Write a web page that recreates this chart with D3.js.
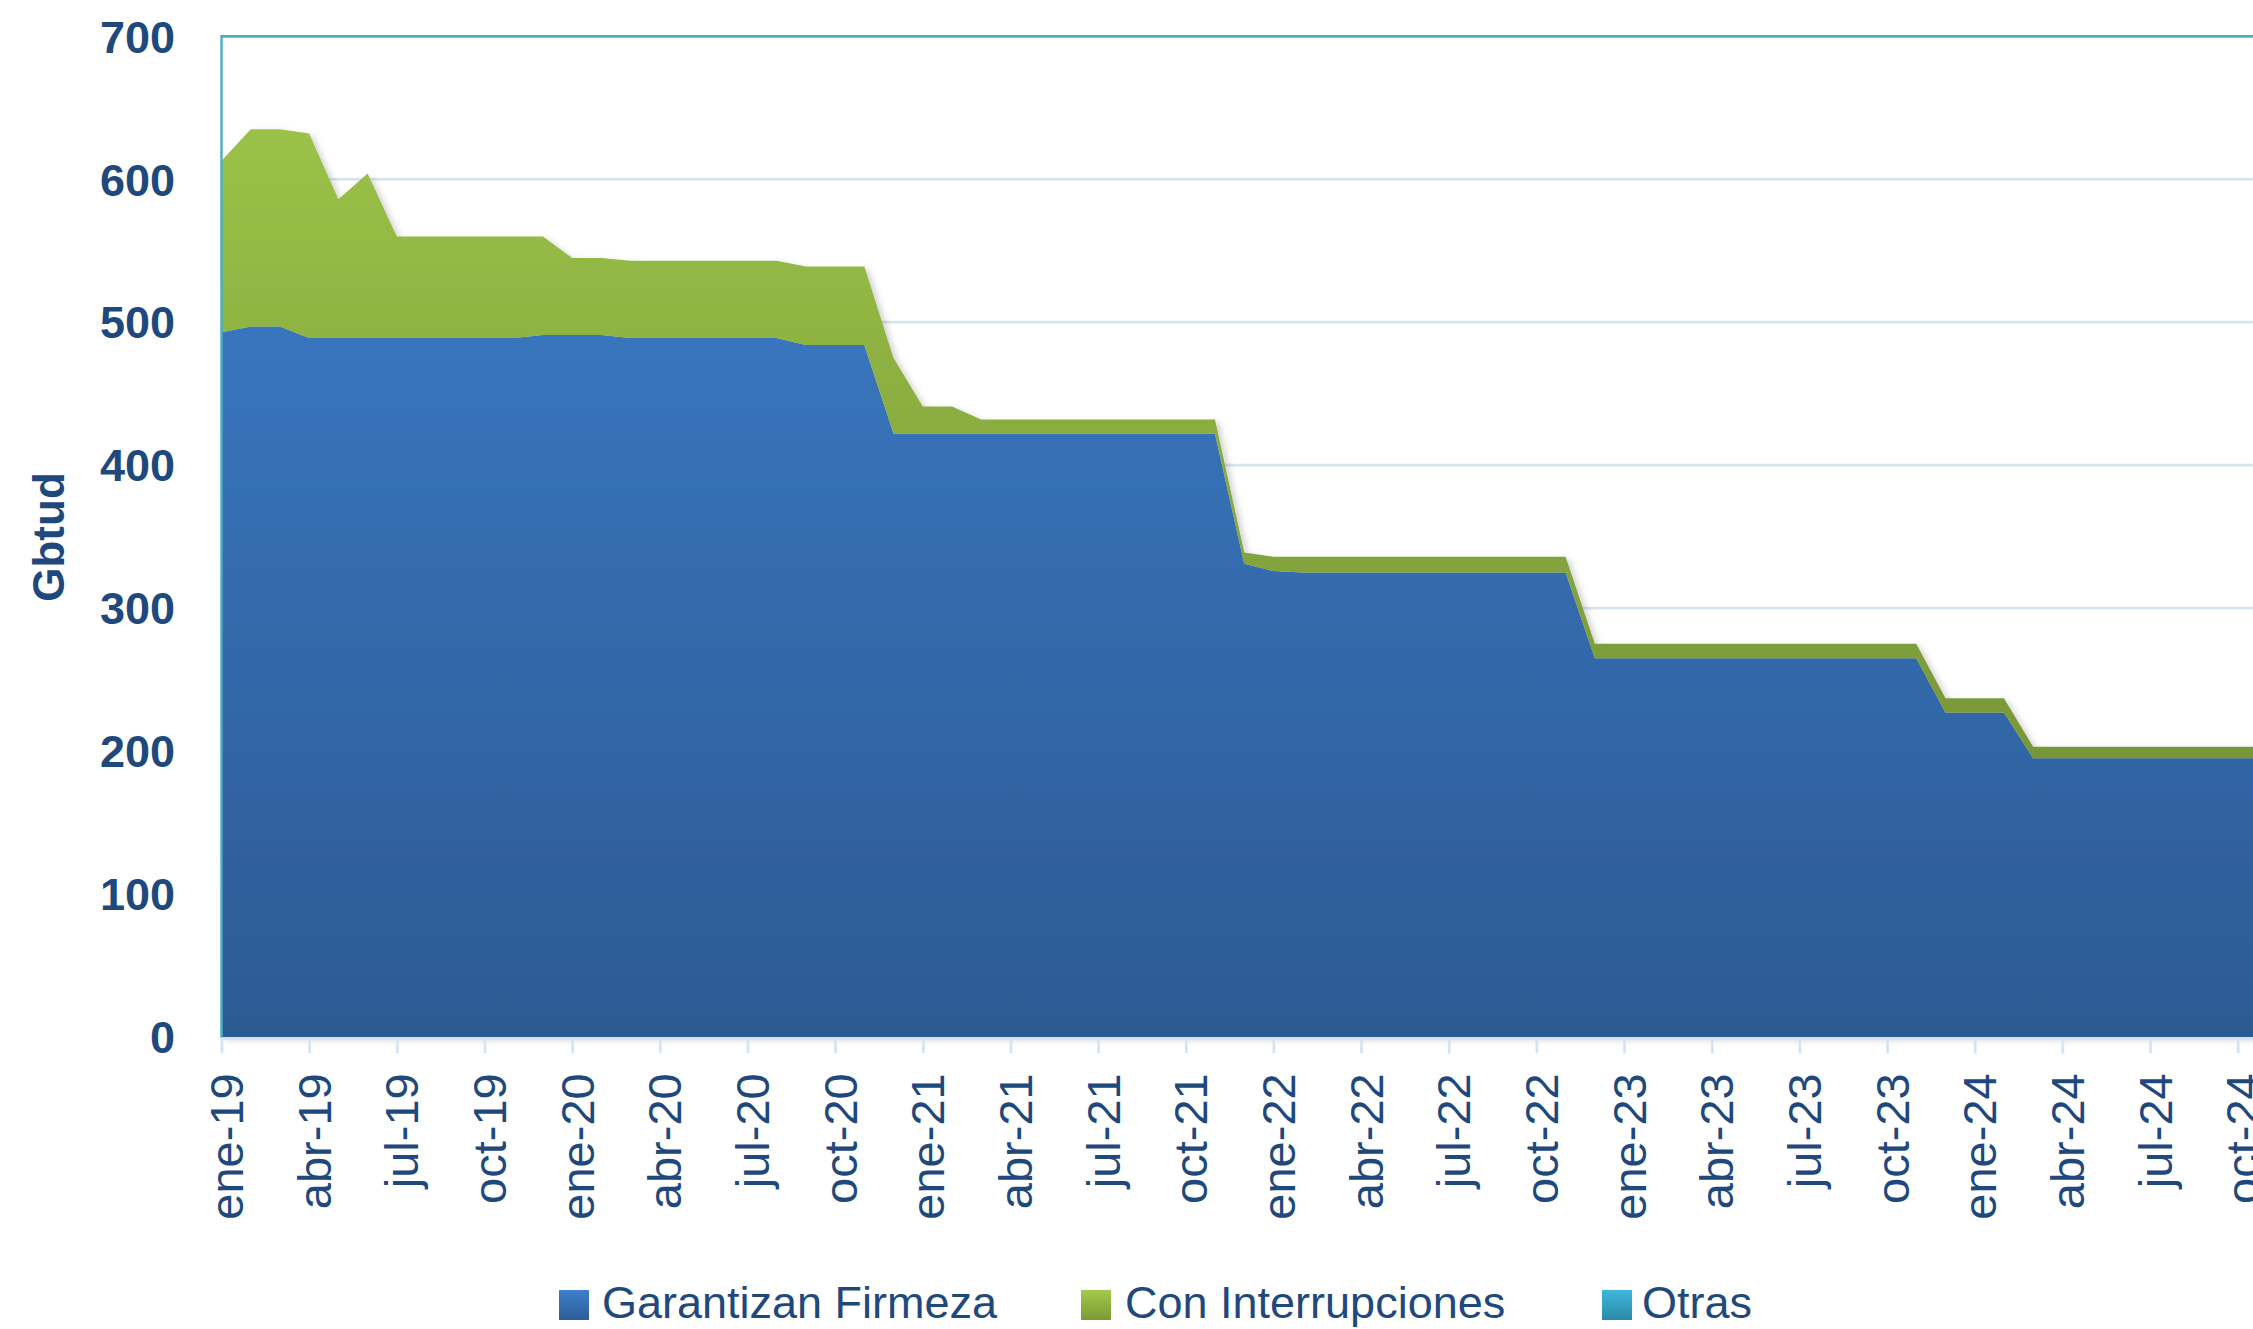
<!DOCTYPE html>
<html lang="es">
<head>
<meta charset="utf-8">
<script src="https://cdn.jsdelivr.net/npm/d3@7/dist/d3.min.js"></script>
<style>
  html, body { margin: 0; padding: 0; background: #ffffff; }
  svg { display: block; }
  text { font-family: "Liberation Sans", Arial, sans-serif; fill: #1F497D; }
</style>
</head>
<body>
<svg id="chart" width="2253" height="1329"></svg>
<script>
// Capacidad contratada por tipo de contrato (Gbtud), serie mensual
const meses = [
  "ene-19","feb-19","mar-19","abr-19","may-19","jun-19","jul-19","ago-19","sep-19","oct-19","nov-19","dic-19",
  "ene-20","feb-20","mar-20","abr-20","may-20","jun-20","jul-20","ago-20","sep-20","oct-20","nov-20","dic-20",
  "ene-21","feb-21","mar-21","abr-21","may-21","jun-21","jul-21","ago-21","sep-21","oct-21","nov-21","dic-21",
  "ene-22","feb-22","mar-22","abr-22","may-22","jun-22","jul-22","ago-22","sep-22","oct-22","nov-22","dic-22",
  "ene-23","feb-23","mar-23","abr-23","may-23","jun-23","jul-23","ago-23","sep-23","oct-23","nov-23","dic-23",
  "ene-24","feb-24","mar-24","abr-24","may-24","jun-24","jul-24","ago-24","sep-24","oct-24","nov-24","dic-24"
];

const garantizanFirmeza = [
  493, 497, 497, 489, 489, 489, 489, 489, 489, 489, 489, 491,
  491, 491, 489, 489, 489, 489, 489, 489, 484, 484, 484, 422,
  422, 422, 422, 422, 422, 422, 422, 422, 422, 422, 422, 331,
  326, 325, 325, 325, 325, 325, 325, 325, 325, 325, 325, 265,
  265, 265, 265, 265, 265, 265, 265, 265, 265, 265, 265, 227,
  227, 227, 195, 195, 195, 195, 195, 195, 195, 195, 195, 195
];

const conInterrupciones = [
  120, 138, 138, 143,  97, 115,  71,  71,  71,  71,  71,  69,
   54,  54,  54,  54,  54,  54,  54,  54,  55,  55,  55,  53,
   19,  19,  10,  10,  10,  10,  10,  10,  10,  10,  10,   8,
   10,  11,  11,  11,  11,  11,  11,  11,  11,  11,  11,  10,
   10,  10,  10,  10,  10,  10,  10,  10,  10,  10,  10,  10,
   10,  10,   8,   8,   8,   8,   8,   8,   8,   8,   8,   8
];

const otras = [
  0, 0, 0, 0, 0, 0, 0, 0, 0, 0, 0, 0,
  0, 0, 0, 0, 0, 0, 0, 0, 0, 0, 0, 0,
  0, 0, 0, 0, 0, 0, 0, 0, 0, 0, 0, 0,
  0, 0, 0, 0, 0, 0, 0, 0, 0, 0, 0, 0,
  0, 0, 0, 0, 0, 0, 0, 0, 0, 0, 0, 0,
  0, 0, 0, 0, 0, 0, 0, 0, 0, 0, 0, 0
];

const etiquetasX = [
  "ene-19","abr-19","jul-19","oct-19","ene-20","abr-20","jul-20","oct-20",
  "ene-21","abr-21","jul-21","oct-21","ene-22","abr-22","jul-22","oct-22",
  "ene-23","abr-23","jul-23","oct-23","ene-24","abr-24","jul-24","oct-24"
];

const ticksY = [0, 100, 200, 300, 400, 500, 600, 700];

const series = [
  { key: "Garantizan Firmeza", values: garantizanFirmeza, grad: "gradAzul" },
  { key: "Con Interrupciones", values: conInterrupciones, grad: "gradVerde" },
  { key: "Otras", values: otras, grad: "gradCian" }
];

// ---- layout ----
const W = 2253, H = 1329;
const plotLeft = 221.5, plotTop = 36.3, plotBottom = 1037;
const monthStep = 29.22;
const plotRight = plotLeft + (meses.length - 1) * monthStep;

const svg = d3.select("#chart");

const x = d3.scaleLinear().domain([0, meses.length - 1]).range([plotLeft, plotRight]);
const y = d3.scaleLinear().domain([0, 700]).range([plotBottom, plotTop]);

// ---- gradients & shadow ----
const defs = svg.append("defs");
function vGrad(id, top, bottom, y1, y2, units) {
  const g = defs.append("linearGradient").attr("id", id)
    .attr("x1", 0).attr("x2", 0).attr("y1", y1).attr("y2", y2);
  if (units) g.attr("gradientUnits", units);
  g.append("stop").attr("offset", "0%").attr("stop-color", top);
  g.append("stop").attr("offset", "100%").attr("stop-color", bottom);
}
vGrad("gradAzul", "#3E80CE", "#2C5A93", plotTop, plotBottom, "userSpaceOnUse");
vGrad("gradVerde", "#A0C84A", "#688330", plotTop, plotBottom, "userSpaceOnUse");
vGrad("gradCian", "#43B8DC", "#2A86A4", plotTop, plotBottom, "userSpaceOnUse");
vGrad("legAzul", "#3D7FCD", "#2E5D98", 0, 1);
vGrad("legVerde", "#A2CA4A", "#7A9A35", 0, 1);
vGrad("legCian", "#3FB8DC", "#2A88A6", 0, 1);

const sh = defs.append("filter").attr("id", "sombra")
  .attr("x", "-5%").attr("y", "-5%").attr("width", "110%").attr("height", "110%");
sh.append("feDropShadow").attr("dx", 4).attr("dy", 3).attr("stdDeviation", 3)
  .attr("flood-color", "#000").attr("flood-opacity", 0.18);

// ---- gridlines ----
svg.append("g")
  .selectAll("line")
  .data(ticksY.filter(v => v > 0 && v < 700))
  .join("line")
  .attr("x1", plotLeft).attr("x2", W + 10)
  .attr("y1", d => y(d)).attr("y2", d => y(d))
  .attr("stroke", "#D5E3F2").attr("stroke-width", 2.7);

// ---- stacked areas ----
const tabla = meses.map((m, i) => {
  const row = { i };
  series.forEach(s => { row[s.key] = s.values[i]; });
  return row;
});
const stack = d3.stack().keys(series.map(s => s.key));
const capas = stack(tabla);

const area = d3.area()
  .x(d => x(d.data.i))
  .y0(d => y(d[0]))
  .y1(d => y(d[1]));

svg.append("g")
  .attr("filter", "url(#sombra)")
  .selectAll("path")
  .data(capas)
  .join("path")
  .attr("fill", (d, i) => `url(#${series[i].grad})`)
  .attr("d", area);

// ---- plot area border (top and left) ----
svg.append("line")
  .attr("x1", plotLeft).attr("x2", W + 10)
  .attr("y1", y(700)).attr("y2", y(700))
  .attr("stroke", "#4BACC6").attr("stroke-width", 2.7);
svg.append("line")
  .attr("x1", plotLeft).attr("x2", plotLeft)
  .attr("y1", y(700) - 1.3).attr("y2", plotBottom + 1)
  .attr("stroke", "#4BACC6").attr("stroke-width", 2.4);

// ---- y axis ----
const yAxis = d3.axisLeft(y).tickValues(ticksY).tickSize(0).tickPadding(0);
const gy = svg.append("g").attr("transform", `translate(175,0)`).call(yAxis);
gy.select(".domain").remove();
gy.selectAll("text")
  .attr("x", 0)
  .attr("dy", "0.35em")
  .style("font-family", "'Liberation Sans', Arial, sans-serif")
  .style("font-weight", "bold")
  .style("font-size", "45px")
  .attr("fill", "#1F497D");

svg.append("text")
  .attr("transform", "translate(64,537) rotate(-90)")
  .attr("text-anchor", "middle")
  .style("font-weight", "bold")
  .style("font-size", "44px")
  .text("Gbtud");

// ---- x axis ----
const tickIdx = etiquetasX.map(l => meses.indexOf(l));
const xAxis = d3.axisBottom(x).tickValues(tickIdx)
  .tickFormat(i => meses[i]).tickSize(15).tickPadding(0);
const gx = svg.append("g").attr("transform", `translate(0,${plotBottom + 1.3})`).call(xAxis);
gx.select(".domain")
  .attr("d", `M${plotLeft},0H${W + 10}`)
  .attr("stroke", "#D5E3F2").attr("stroke-width", 2.7);
gx.selectAll(".tick line").attr("stroke", "#D5E3F2").attr("stroke-width", 2.7);
gx.selectAll(".tick text")
  .attr("text-anchor", "end")
  .attr("transform", "translate(21,35) rotate(-90)")
  .attr("x", 0).attr("y", 0).attr("dy", 0)
  .style("font-family", "'Liberation Sans', Arial, sans-serif")
  .style("font-size", "47px")
  .attr("fill", "#1F497D");

// ---- legend ----
const leyenda = [
  { label: "Garantizan Firmeza", sw: 559, tx: 602, grad: "legAzul" },
  { label: "Con Interrupciones", sw: 1081, tx: 1125, grad: "legVerde" },
  { label: "Otras", sw: 1602, tx: 1642, grad: "legCian" }
];
const gl = svg.append("g");
leyenda.forEach(l => {
  gl.append("rect").attr("x", l.sw).attr("y", 1290).attr("width", 30).attr("height", 30)
    .attr("fill", `url(#${l.grad})`);
  gl.append("text").attr("x", l.tx).attr("y", 1318)
    .style("font-size", "45px").text(l.label);
});
</script>
</body>
</html>
